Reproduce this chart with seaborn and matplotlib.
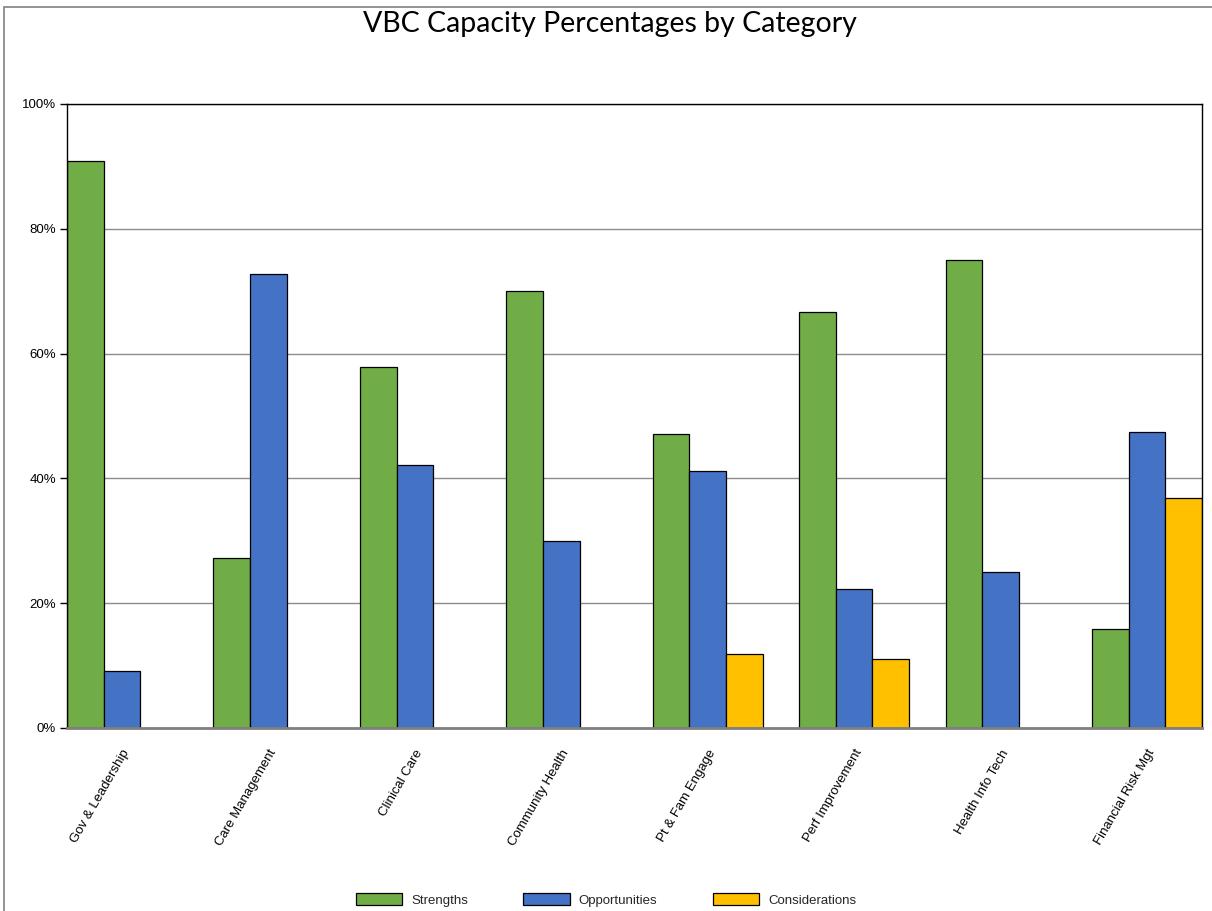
import numpy as np
import pandas as pd
import matplotlib
matplotlib.use("Agg")
import matplotlib.pyplot as plt
from matplotlib.patches import Rectangle
from matplotlib.ticker import PercentFormatter
import seaborn as sns

categories = ["Gov & Leadership", "Care Management", "Clinical Care", "Community Health",
              "Pt & Fam Engage", "Perf Improvement", "Health Info Tech", "Financial Risk Mgt"]
strengths = [90.9, 27.3, 57.9, 70.0, 47.1, 66.7, 75.0, 15.8]
opportunities = [9.1, 72.7, 42.1, 30.0, 41.2, 22.2, 25.0, 47.4]
considerations = [np.nan, np.nan, np.nan, np.nan, 11.8, 11.1, np.nan, 36.8]
series_names = ["Strengths", "Opportunities", "Considerations"]
series_colors = ["#70AD47", "#4472C4", "#FFC000"]

frames = []
for name, vals in zip(series_names, [strengths, opportunities, considerations]):
    frames.append(pd.DataFrame({"Category": categories, "Series": name, "Value": vals}))
df = pd.concat(frames, ignore_index=True)

sns.set_theme(style="white")
plt.rcParams["font.family"] = ["Liberation Sans", "DejaVu Sans"]

fig = plt.figure(figsize=(12.12, 9.11), dpi=100)
ax = fig.add_axes([67 / 1212, 1 - 728 / 911, (1202 - 67) / 1212, (728 - 104) / 911])

sns.barplot(data=df, x="Category", y="Value", hue="Series", order=categories,
            hue_order=series_names, palette=series_colors, width=0.75, gap=0,
            edgecolor="black", linewidth=0.9, saturation=1, ax=ax, legend=True)

ax.set_xlim(-0.375, len(categories) - 1 + 0.375)
ax.set_ylim(0, 100)
ax.set_yticks([0, 20, 40, 60, 80, 100])
ax.yaxis.set_major_formatter(PercentFormatter(decimals=0))
ax.set_xlabel("")
ax.set_ylabel("")
ax.grid(axis="y", color="#8c8c8c", linewidth=1.0)
ax.set_axisbelow(True)

for side in ["top", "right", "left"]:
    ax.spines[side].set_color("black")
    ax.spines[side].set_linewidth(1.0)
ax.spines["bottom"].set_color("#808080")
ax.spines["bottom"].set_linewidth(2.0)

ax.tick_params(axis="y", left=True, length=5, width=1, color="black", pad=3,
               labelsize=9.5, labelcolor="black")
ax.tick_params(axis="x", bottom=False, labelsize=9.5, labelcolor="black", pad=8)
for lbl in ax.get_xticklabels():
    lbl.set_rotation(60)
    lbl.set_ha("right")
    lbl.set_rotation_mode("anchor")

leg = ax.legend(loc="center", bbox_to_anchor=(606 / 1212, 1 - 900 / 911),
                bbox_transform=fig.transFigure, ncol=3, frameon=False, fontsize=9.5,
                handlelength=3.5, handleheight=1.0, handletextpad=0.7, columnspacing=4.2)
for h in leg.legend_handles:
    h.set_edgecolor("black")
    h.set_linewidth(0.9)

fig.text(0.503, 1 - 24 / 911, "VBC Capacity Percentages by Category", ha="center", va="center",
         fontsize=20.5, family=["Lato", "DejaVu Sans"], color="black")

fig.patches.append(Rectangle((4 / 1212, -0.05), 1.1, 1 - 7 / 911 + 0.05,
                             transform=fig.transFigure, fill=False,
                             edgecolor="#808080", linewidth=1.2))

fig.savefig("out.png", dpi=100, facecolor="white")
